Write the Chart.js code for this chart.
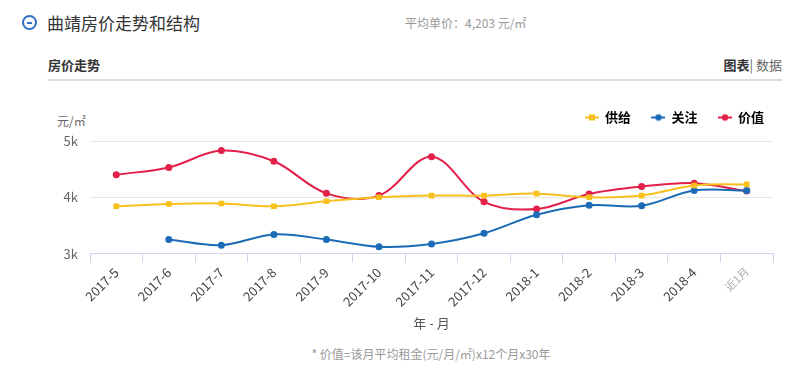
<!DOCTYPE html>
<html>
<head>
<meta charset="utf-8">
<script src="https://cdn.jsdelivr.net/npm/chart.js@4/dist/chart.umd.min.js"></script>
<style>
  html, body { margin: 0; padding: 0; background: #fff; }
  body { width: 800px; height: 370px; position: relative; overflow: hidden;
         font-family: "Noto Sans CJK SC", "Noto Sans", sans-serif; color: #333; }
  .abs { position: absolute; white-space: nowrap; }
  .icon { left: 22px; top: 15px; width: 11px; height: 11px; border: 2px solid #2f6fc6; border-radius: 50%; }
  .icon::after { content: ''; position: absolute; left: 3px; top: 4.5px; width: 5px; height: 2px; background: #2f6fc6; }
  .title { left: 47px; top: 10px; font-size: 17px; color: #333; }
  .avg { left: 405px; top: 14px; font-size: 12px; color: #999; }
  .sub { left: 48px; top: 55px; font-size: 13px; font-weight: bold; color: #333; }
  .tabs { right: 18px; top: 55px; font-size: 13px; color: #666; }
  .tabs b { color: #333; }
  .divider { left: 48px; top: 79px; width: 734px; height: 2px; background: #dcdce8; }
  .unit { left: 57px; top: 112px; font-size: 12px; color: #666; }
  .note { left: 0; width: 862px; text-align: center; top: 345px; font-size: 12px; color: #999; }
  #box { position: absolute; left: 40px; top: 90px; width: 745px; height: 245px; }
</style>
</head>
<body>
<div class="abs icon"></div>
<div class="abs title">曲靖房价走势和结构</div>
<div class="abs avg">平均单价：4,203 元/㎡</div>
<div class="abs sub">房价走势</div>
<div class="abs tabs"><b>图表</b>| 数据</div>
<div class="abs divider"></div>
<div class="abs unit">元/㎡</div>
<div id="box"><canvas id="c"></canvas></div>
<div class="abs note">* 价值=该月平均租金(元/月/㎡)x12个月x30年</div>
<script>
// ─── 数据 ───────────────────────────────────────────────
const months = ['2017-5', '2017-6', '2017-7', '2017-8', '2017-9', '2017-10', '2017-11',
                '2017-12', '2018-1', '2018-2', '2018-3', '2018-4', '近1月'];
const supply = [3840, 3880, 3890, 3840, 3930, 4000, 4030, 4030, 4065, 4000, 4030, 4210, 4230];
const focus  = [null, 3250, 3150, 3340, 3250, 3120, 3170, 3360, 3690, 3860, 3850, 4120, 4120];
const value  = [4400, 4530, 4830, 4640, 4070, 4030, 4720, 3920, 3790, 4060, 4190, 4250, 4110];
const yTicks = [3000, 4000, 5000];

const YELLOW = '#f9c01c', BLUE = '#1c6bb6', RED = '#e2204a';
const FONT = '"Noto Sans CJK SC", "Noto Sans", sans-serif';

// 图例图标：短线 + 标记
function legendIcon(color, square) {
  const cv = document.createElement('canvas');
  cv.width = 14; cv.height = 10;
  const g = cv.getContext('2d');
  g.strokeStyle = color; g.lineWidth = 2;
  g.beginPath(); g.moveTo(0, 5); g.lineTo(14, 5); g.stroke();
  g.fillStyle = color;
  if (square) g.fillRect(4, 2, 6, 6);
  else { g.beginPath(); g.arc(7, 5, 3.2, 0, Math.PI * 2); g.fill(); }
  return cv;
}

const series = [
  { label: '供给', data: supply, color: YELLOW, square: true },
  { label: '关注', data: focus,  color: BLUE,   square: false },
  { label: '价值', data: value,  color: RED,    square: false },
];

// 图例下方留白 + 整体右移一点
const legendTweak = {
  id: 'legendTweak',
  beforeLayout(chart) {
    const lg = chart.legend;
    if (!lg || lg._tweaked) return;
    lg._tweaked = true;
    const fit = lg.fit, draw = lg.draw;
    lg.fit = function () { fit.call(this); this.height += 7; };
    lg.draw = function () {
      const ctx = this.ctx;
      ctx.save(); ctx.translate(12, 0);
      draw.apply(this, arguments);
      ctx.restore();
    };
  },
};

new Chart(document.getElementById('c'), {
  type: 'line',
  data: {
    labels: months,
    datasets: series.map(s => ({
      label: s.label,
      data: s.data,
      borderColor: s.color,
      backgroundColor: s.color,
      borderWidth: 2,
      tension: 0.35,
      pointStyle: s.square ? 'rect' : 'circle',
      pointRadius: s.square ? 4 : 3.5,
      pointBorderWidth: 0,
    })),
  },
  plugins: [legendTweak],
  options: {
    responsive: true,
    maintainAspectRatio: false,
    animation: false,
    layout: { padding: { top: 0, right: 12, left: 0, bottom: 0 } },
    plugins: {
      tooltip: { enabled: false },
      legend: {
        position: 'top',
        align: 'end',
        labels: {
          usePointStyle: true,
          boxWidth: 14,
          boxHeight: 10,
          padding: 21,
          color: '#333',
          font: { family: FONT, size: 13, weight: 'bold' },
          generateLabels: () => series.map((s, i) => ({
            text: s.label,
            pointStyle: legendIcon(s.color, s.square),
            fillStyle: s.color,
            strokeStyle: s.color,
            lineWidth: 0,
            hidden: false,
            datasetIndex: i,
          })),
        },
      },
    },
    scales: {
      x: {
        offset: true,
        border: { color: '#ccd6eb', width: 1 },
        grid: { offset: true, drawOnChartArea: false, drawTicks: true, tickLength: 9, color: '#ccd6eb' },
        ticks: {
          color: (ctx) => ctx.index === months.length - 1 ? '#aaa' : '#444',
          font: (ctx) => ({ family: FONT, size: ctx.index === months.length - 1 ? 11 : 13 }),
          minRotation: 45, maxRotation: 45, padding: 2, autoSkip: false,
        },
        title: { display: true, text: '年 - 月', color: '#555', font: { family: FONT, size: 13 }, padding: { top: 4 } },
      },
      y: {
        min: 3000, max: 5000,
        afterBuildTicks: s => { s.ticks = yTicks.map(v => ({ value: v })); },
        afterFit: s => { s.width = 50; },
        border: { display: false },
        grid: { color: '#e6e6e6', drawTicks: false },
        ticks: {
          color: '#666', padding: 12,
          font: { family: FONT, size: 13 },
          callback: v => (v / 1000) + 'k',
        },
      },
    },
  },
});
</script>
</body>
</html>
